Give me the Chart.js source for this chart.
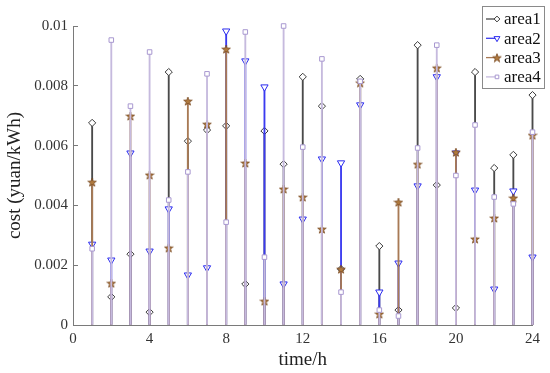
<!DOCTYPE html>
<html>
<head>
<meta charset="utf-8">
<script src="https://cdn.jsdelivr.net/npm/chart.js@4"></script>
<style>
  body { margin: 0; background: #fff; }
  #wrap { width: 550px; height: 373px; }
</style>
</head>
<body>
<div id="wrap"><canvas id="c"></canvas></div>
<script>
// hourly cost values
const hours = [1, 2, 3, 4, 5, 6, 7, 8, 9, 10, 11, 12, 13, 14, 15, 16, 17, 18, 19, 20, 21, 22, 23, 24];
const area1 = [0.00676, 0.00094, 0.00237, 0.00043, 0.00846, 0.00615, 0.00652, 0.00666, 0.00137, 0.00649, 0.00538, 0.0083,
               0.00732, 0.00187, 0.00823, 0.00264, 0.0005, 0.00936, 0.00468, 0.00057, 0.00846, 0.00525, 0.00569, 0.00769];
const area2 = [0.0027, 0.00217, 0.00575, 0.00247, 0.00388, 0.00167, 0.00191, 0.00983, 0.00883, 0.00796, 0.00137, 0.00354,
               0.00555, 0.00542, 0.00736, 0.0011, 0.00207, 0.00465, 0.0083, 0.00575, 0.00451, 0.0012, 0.00448, 0.00227];
const area3 = [0.00478, 0.0014, 0.00699, 0.00502, 0.00258, 0.00749, 0.00672, 0.00923, 0.00542, 0.0008, 0.00455, 0.00428,
               0.00321, 0.00187, 0.0081, 0.00037, 0.00411, 0.00538, 0.0086, 0.00578, 0.00288, 0.00358, 0.00425, 0.00635];
const area4 = [0.00255, 0.00953, 0.00732, 0.00913, 0.00418, 0.00512, 0.0084, 0.00344, 0.0098, 0.00227, 0.01, 0.00595,
               0.0089, 0.0011, 0.00815, 0.0005, 0.0003, 0.00592, 0.00936, 0.005, 0.00669, 0.00428, 0.00405, 0.00645];
const xTicks = [0, 4, 8, 12, 16, 20, 24];
const yTicks = [0, 0.002, 0.004, 0.006, 0.008, 0.01];

const FONT = "'Liberation Serif', 'Times New Roman', serif";
Chart.defaults.font.family = FONT;

// filled pentagram marker for area3
function makeStar(size, fill, stroke) {
  const cv = document.createElement("canvas");
  cv.width = size; cv.height = size;
  const g = cv.getContext("2d");
  const cx = size / 2, cy = size / 2 + 0.5, R = size / 2 - 0.5, r = R * 0.4;
  g.beginPath();
  for (let i = 0; i < 10; i++) {
    const rad = i % 2 === 0 ? R : r;
    const a = -Math.PI / 2 + i * Math.PI / 5;
    g.lineTo(cx + rad * Math.cos(a), cy + rad * Math.sin(a));
  }
  g.closePath();
  g.fillStyle = fill; g.fill();
  g.strokeStyle = stroke; g.lineWidth = 0.8; g.stroke();
  return cv;
}
const starImg = makeStar(10, "#b07a3e", "#7a4a22");

const series = [
  { label: "area1", data: area1, color: "#3a3a3a", stem: "#4a4a4a", style: "rectRot", radius: 3.6, rot: 0 },
  { label: "area2", data: area2, color: "#2b2bef", stem: "#3a3af0", style: "triangle", radius: 4.2, rot: 180 },
  { label: "area3", data: area3, color: "#9a6a3c", stem: "#a87a55", style: starImg, radius: 5, rot: 0 },
  { label: "area4", data: area4, color: "#a898d0", stem: "#c6bade", style: "rect", radius: 3.2, rot: 0 }
];

const datasets = [];
series.forEach((s, i) => {
  const pts = hours.map((h, k) => ({ x: h, y: s.data[k] }));
  datasets.push({
    type: "bar",
    label: s.label + " stem",
    data: pts,
    backgroundColor: s.stem,
    barThickness: 1.2,
    grouped: false,
    clip: false,
    order: 8 - i * 2
  });
  datasets.push({
    type: "scatter",
    label: s.label,
    data: pts,
    pointStyle: s.style,
    pointRadius: s.radius,
    pointRotation: s.rot,
    pointBorderColor: s.color,
    pointBackgroundColor: "#ffffff",
    pointBorderWidth: 1,
    clip: false,
    order: 7 - i * 2
  });
});

// legend box in the upper right corner
const legendBox = {
  id: "legendBox",
  afterDraw(chart) {
    const ctx = chart.ctx;
    const x0 = 482, y0 = 6, w = 62, h = 82;
    ctx.save();
    ctx.fillStyle = "#fff";
    ctx.fillRect(x0, y0, w, h);
    ctx.strokeStyle = "#8a8a8a";
    ctx.lineWidth = 1;
    ctx.strokeRect(x0 + 0.5, y0 + 0.5, w, h);
    ctx.font = "17px " + FONT;
    ctx.textBaseline = "middle";
    series.forEach((s, i) => {
      const y = 19 + i * 19.3;
      ctx.strokeStyle = s.stem;
      ctx.lineWidth = 1.3;
      ctx.beginPath();
      ctx.moveTo(486, y);
      ctx.lineTo(497, y);
      ctx.stroke();
      ctx.strokeStyle = s.color;
      ctx.fillStyle = "#fff";
      ctx.lineWidth = 1;
      Chart.helpers.drawPoint(ctx, { pointStyle: s.style, radius: s.radius * 0.8, rotation: s.rot, borderWidth: 1 }, 497, y);
      ctx.fillStyle = "#111";
      ctx.fillText(s.label, 504, y + 1);
    });
    ctx.restore();
  }
};

new Chart(document.getElementById("c"), {
  type: "scatter",
  data: { datasets: datasets },
  options: {
    responsive: true,
    maintainAspectRatio: false,
    animation: false,
    layout: { padding: { left: 0, right: 17, top: 26, bottom: 0 } },
    plugins: { legend: { display: false }, tooltip: { enabled: false } },
    scales: {
      x: {
        type: "linear",
        offset: false,
        min: 0, max: 24,
        afterBuildTicks: (sc) => { sc.ticks = xTicks.map(v => ({ value: v })); },
        afterFit: (sc) => { sc.height = 48; },
        border: { color: "#7a7a7a", width: 1 },
        grid: { offset: false, drawOnChartArea: false, drawTicks: true, tickLength: -5, color: "#7a7a7a" },
        ticks: { color: "#333", font: { family: FONT, size: 15 }, padding: 10, maxRotation: 0 },
        title: { display: true, text: "time/h", color: "#222", font: { family: FONT, size: 19 }, padding: { top: 0, bottom: 2 } }
      },
      y: {
        type: "linear",
        min: 0, max: 0.01,
        afterBuildTicks: (sc) => { sc.ticks = yTicks.map(v => ({ value: v })); },
        afterFit: (sc) => { sc.width = 73; },
        border: { color: "#7a7a7a", width: 1 },
        grid: { drawOnChartArea: false, drawTicks: true, tickLength: -5, color: "#7a7a7a" },
        ticks: { color: "#333", font: { family: FONT, size: 15 }, padding: 10, callback: (v) => String(+v.toFixed(3)) },
        title: { display: true, text: "cost (yuan/kWh)", color: "#222", font: { family: FONT, size: 19 }, padding: { top: 4, bottom: 0 } }
      }
    }
  },
  plugins: [legendBox]
});
</script>
</body>
</html>
